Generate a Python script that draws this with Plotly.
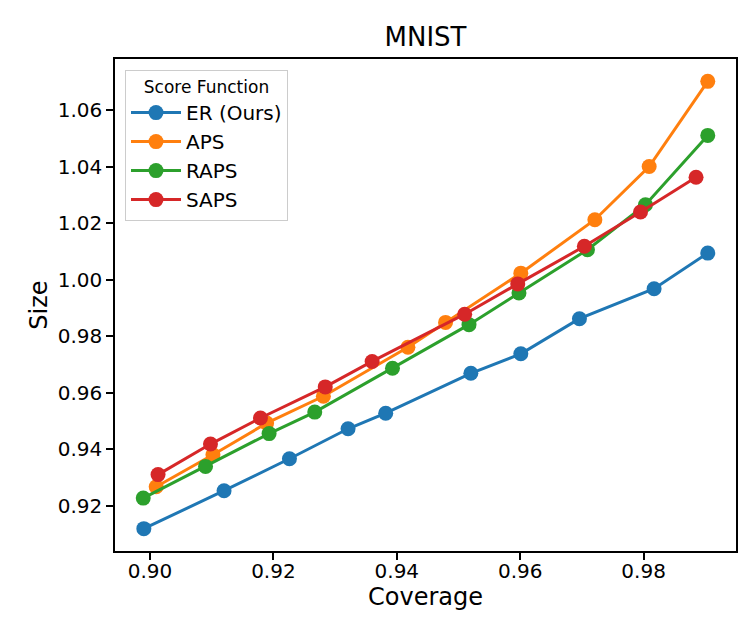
import plotly.graph_objects as go

series_names = ["ER (Ours)", "APS", "RAPS", "SAPS"]
colors = ["#1f77b4", "#ff7f0e", "#2ca02c", "#d62728"]

er_cov = [0.8990, 0.9120, 0.9226, 0.9321, 0.9382, 0.9520, 0.9601, 0.9696, 0.9817, 0.9904]
er_size = [0.9120, 0.9254, 0.9367, 0.9473, 0.9528, 0.9669, 0.9738, 0.9862, 0.9968, 1.0094]

aps_cov = [0.9010, 0.9102, 0.9189, 0.9281, 0.9418, 0.9479, 0.9601, 0.9721, 0.9809, 0.9904]
aps_size = [0.9268, 0.9381, 0.9493, 0.9588, 0.9761, 0.9849, 1.0023, 1.0212, 1.0400, 1.0701]

raps_cov = [0.8989, 0.9090, 0.9193, 0.9267, 0.9393, 0.9517, 0.9598, 0.9709, 0.9803, 0.9904]
raps_size = [0.9228, 0.9340, 0.9456, 0.9532, 0.9687, 0.9841, 0.9953, 1.0106, 1.0265, 1.0510]

saps_cov = [0.9013, 0.9098, 0.9179, 0.9284, 0.9360, 0.9510, 0.9596, 0.9704, 0.9795, 0.9885]
saps_size = [0.9311, 0.9419, 0.9511, 0.9621, 0.9711, 0.9878, 0.9985, 1.0118, 1.0239, 1.0362]

x_ticks = [0.90, 0.92, 0.94, 0.96, 0.98]
y_ticks = [0.92, 0.94, 0.96, 0.98, 1.00, 1.02, 1.04, 1.06]

xs = [er_cov, aps_cov, raps_cov, saps_cov]
ys = [er_size, aps_size, raps_size, saps_size]

fig = go.Figure()
for i, (name, c, x, y) in enumerate(zip(series_names, colors, xs, ys)):
    fig.add_trace(go.Scatter(
        x=x, y=y, mode="lines+markers", name=name,
        line=dict(color=c, width=3),
        marker=dict(color=c, size=15),
        legendgroup=f"g{i}",
    ))

def pad(vals, frac=0.05):
    lo = min(min(v) for v in vals)
    hi = max(max(v) for v in vals)
    d = (hi - lo) * frac
    return [lo - d, hi + d]

font_family = "DejaVu Sans"
axis_common = dict(
    showline=True, linecolor="black", linewidth=1.6, mirror=True,
    ticks="outside", ticklen=7, tickwidth=1.6, tickcolor="black",
    showgrid=False, zeroline=False,
    tickfont=dict(size=20, color="black", family=font_family),
)

fig.update_layout(
    width=747, height=623,
    margin=dict(l=107, r=19, t=51, b=80),
    paper_bgcolor="white", plot_bgcolor="white",
    font=dict(family=font_family, color="black"),
    title=dict(text="MNIST", x=0.5, xref="paper", y=1 - 29 / 623, yref="container",
               xanchor="center", yanchor="middle",
               font=dict(size=26, color="black", family=font_family)),
    xaxis=dict(range=pad(xs), tickvals=x_ticks, ticktext=[f"{v:.2f}" for v in x_ticks],
               title=dict(text="Coverage", font=dict(size=24, color="black"), standoff=3),
               ticklabelstandoff=-6,
               **axis_common),
    yaxis=dict(range=pad(ys), tickvals=y_ticks, ticktext=[f"{v:.2f}" for v in y_ticks],
               title=dict(text="Size", font=dict(size=24, color="black"), standoff=3),
               **axis_common),
    legend=dict(
        x=0.0161, y=0.9776, xanchor="left", yanchor="top",
        bgcolor="rgba(255,255,255,0.8)", bordercolor="#cccccc", borderwidth=1,
        font=dict(size=20, color="black", family=font_family),
        title=dict(text="Score Function", font=dict(size=17, color="black"), side="top center"),
        tracegroupgap=0, itemwidth=50,
    ),
    showlegend=True,
)

fig.write_html("out.html")
